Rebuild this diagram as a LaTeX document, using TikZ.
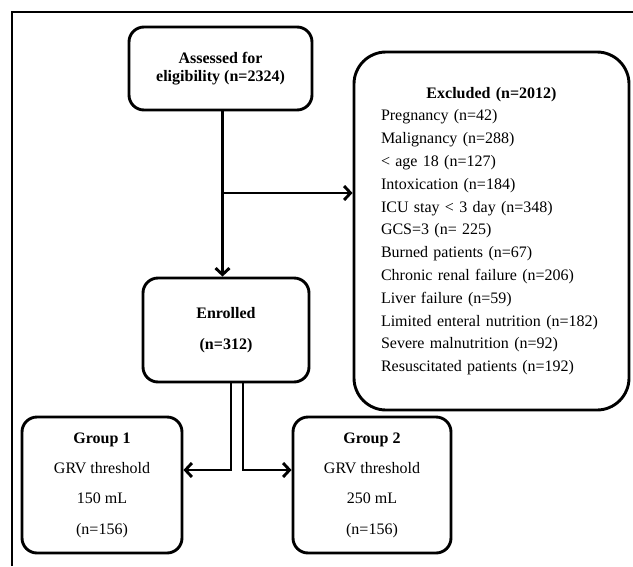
\documentclass[tikz,border=0pt]{standalone}
\usepackage{fontspec}
\setmainfont{Liberation Serif}
\usetikzlibrary{arrows.meta}
\begin{document}
\begin{tikzpicture}[x=1pt,y=1pt,
  box/.style={draw, line width=2.9pt, rounded corners=15pt, align=center, inner sep=0pt},
  arr/.style={line width=2.9pt, line join=miter, -{Straight Barb[length=6.5pt,width=14pt]}},
  frame/.style={line width=2.9pt}
]
\useasboundingbox (0,0) rectangle (633,-566);
\draw[frame] (12,-566) -- (12,-12) -- (633,-12);

\node[box, minimum width=183pt, minimum height=83pt,
      font=\fontsize{16}{18}\selectfont\bfseries] (assessed) at (220.5,-68.5)
  {Assessed for\\eligibility (n=2324)};

\node[box, rounded corners=32pt, minimum width=275pt, minimum height=358pt,
      text width=221pt, align=left, font=\fontsize{16}{22.8}\selectfont] (excl) at (491.5,-231)
  {\makebox[\linewidth]{\bfseries Excluded (n=2012)}\\
   Pregnancy (n=42)\\
   Malignancy (n=288)\\
   < age 18 (n=127)\\
   Intoxication (n=184)\\
   ICU stay < 3 day (n=348)\\
   GCS=3 (n= 225)\\
   Burned patients (n=67)\\
   Chronic renal failure (n=206)\\
   Liver failure (n=59)\\
   Limited enteral nutrition (n=182)\\
   Severe malnutrition (n=92)\\
   Resuscitated patients (n=192)};

\node[box, minimum width=166pt, minimum height=104pt,
      font=\fontsize{16}{31}\selectfont\bfseries] (enrolled) at (226,-330)
  {Enrolled\\(n=312)};

\node[box, minimum width=160pt, minimum height=136pt,
      font=\fontsize{16}{30.3}\selectfont] (g1) at (102,-485)
  {\textbf{Group 1}\\GRV threshold\\150 mL\\(n=156)};

\node[box, minimum width=158pt, minimum height=136pt,
      font=\fontsize{16}{30.3}\selectfont] (g2) at (372,-485)
  {\textbf{Group 2}\\GRV threshold\\250 mL\\(n=156)};

\coordinate (j) at ([xshift=2pt]assessed.south |- 0,-193);
\draw[arr] ([xshift=2pt]assessed.south) -- ([xshift=2pt]assessed.south |- enrolled.north);
\draw[arr] (j) -- (j -| excl.west);
\draw[arr] ([xshift=5pt]enrolled.south) |- ([yshift=15pt]g1.east);
\draw[arr] ([xshift=17pt]enrolled.south) |- ([yshift=15pt]g2.west);
\end{tikzpicture}
\end{document}
